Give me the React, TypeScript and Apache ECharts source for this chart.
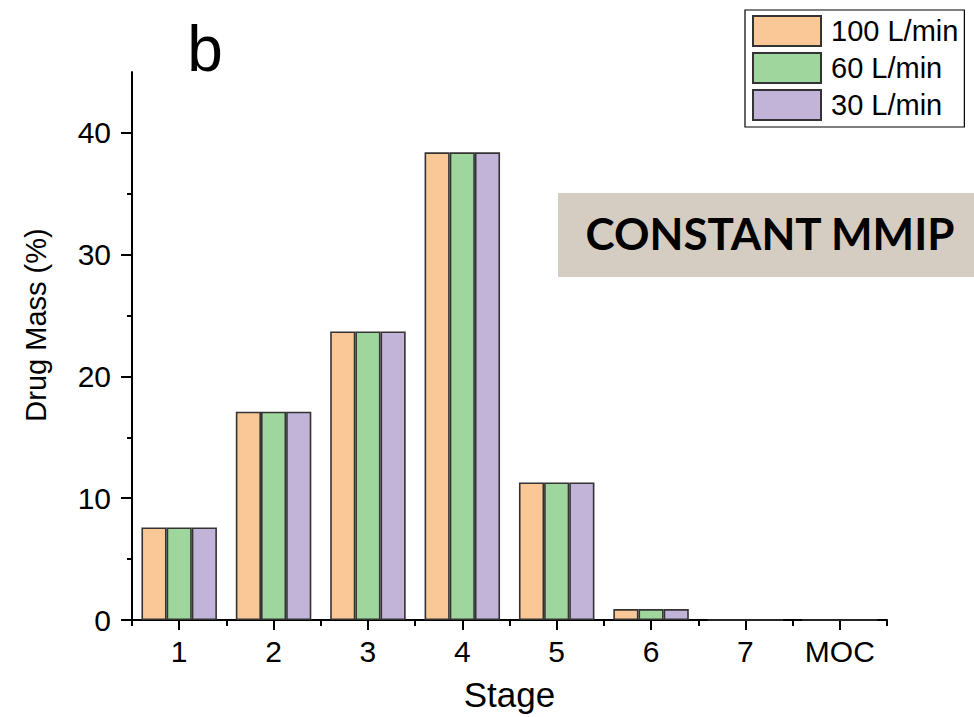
import React, { useEffect, useRef } from "react";
import * as echarts from "echarts";

const categories = ["1", "2", "3", "4", "5", "6", "7", "MOC"];
const seriesNames = ["100 L/min", "60 L/min", "30 L/min"];
const flow100 = [7.6, 17.1, 23.7, 38.4, 11.3, 0.9, 0, 0];
const flow60 = [7.6, 17.1, 23.7, 38.4, 11.3, 0.9, 0, 0];
const flow30 = [7.6, 17.1, 23.7, 38.4, 11.3, 0.9, 0, 0];
const yMajorTicks = [0, 10, 20, 30, 40];
const yMinorTicks = [5, 15, 25, 35];
const colors = ["#f9c896", "#9ed69d", "#c2b3d8"];

const FONT = "'Liberation Sans', Arial, sans-serif";

export default function App() {
  const ref = useRef<HTMLDivElement>(null);
  useEffect(() => {
    if (!ref.current) return;
    const chart = echarts.init(ref.current, null, { renderer: "svg" });
    const data = [flow100, flow60, flow30];
    chart.setOption({
      animation: false,
      backgroundColor: "#ffffff",
      grid: { left: 132, right: 87, top: 72, bottom: 97, containLabel: false },
      legend: {
        orient: "vertical",
        left: 745,
        top: 10,
        icon: "rect",
        itemWidth: 68,
        itemHeight: 30,
        itemGap: 5,
        padding: [5, 6, 6, 7],
        borderColor: "#000",
        borderWidth: 1.2,
        backgroundColor: "#fff",
        textStyle: { fontFamily: FONT, fontSize: 29, color: "#000", padding: [0, 0, 0, 5] },
        data: seriesNames,
      },
      xAxis: [
        {
          type: "category",
          data: categories,
          position: "bottom",
          boundaryGap: true,
          name: "Stage",
          nameLocation: "middle",
          nameGap: 57,
          nameTextStyle: { fontFamily: FONT, fontSize: 35, color: "#000" },
          axisLine: { show: true, lineStyle: { color: "#000", width: 2 } },
          axisTick: { show: true, alignWithLabel: false, length: 6, lineStyle: { color: "#000", width: 2 } },
          axisLabel: { fontFamily: FONT, fontSize: 30, color: "#000", margin: 16 },
          splitLine: { show: false },
        },
        {
          type: "category",
          data: categories,
          position: "bottom",
          offset: 0,
          boundaryGap: true,
          axisLine: { show: false },
          axisTick: { show: true, alignWithLabel: true, length: 10, lineStyle: { color: "#000", width: 2 } },
          axisLabel: { show: false },
          splitLine: { show: false },
        },
      ],
      yAxis: [
        {
          type: "value",
          min: 0,
          max: 45,
          interval: 10,
          position: "left",
          axisLine: { show: true, lineStyle: { color: "#000", width: 2 } },
          axisTick: { show: true, length: 11, customValues: yMajorTicks, lineStyle: { color: "#000", width: 2 } },
          axisLabel: { fontFamily: FONT, fontSize: 30, color: "#000", margin: 21, customValues: yMajorTicks },
          splitLine: { show: false },
        },
        {
          type: "value",
          min: 0,
          max: 45,
          interval: 5,
          position: "left",
          offset: 0,
          axisLine: { show: false },
          axisTick: { show: true, length: 5, customValues: yMinorTicks, lineStyle: { color: "#000", width: 2 } },
          axisLabel: { show: false },
          splitLine: { show: false },
        },
      ],
      series: seriesNames.map((name, i) => ({
        name,
        type: "bar",
        xAxisIndex: 0,
        yAxisIndex: 0,
        data: data[i],
        barGap: "0%",
        barCategoryGap: "20%",
        itemStyle: { color: colors[i], borderColor: "#333333", borderWidth: 1.6 },
      })),
      graphic: [
        {
          type: "rect",
          shape: { x: 558, y: 193, width: 420, height: 84 },
          style: { fill: "#d6cdc2" },
          z: 10,
        },
        {
          type: "text",
          x: 770,
          y: 233,
          z: 11,
          style: {
            text: "CONSTANT MMIP",
            fontFamily: "Lato, 'Open Sans', sans-serif",
            fontWeight: "bold",
            fontSize: 44,
            fill: "#000",
            align: "center",
            verticalAlign: "middle",
          },
        },
        {
          type: "text",
          x: 205,
          y: 49,
          z: 11,
          style: {
            text: "b",
            fontFamily: FONT,
            fontSize: 64,
            fill: "#000",
            align: "center",
            verticalAlign: "middle",
          },
        },
        {
          type: "text",
          x: 36,
          y: 325,
          rotation: Math.PI / 2,
          z: 11,
          style: {
            text: "Drug Mass (%)",
            fontFamily: FONT,
            fontSize: 29,
            fill: "#000",
            align: "center",
            verticalAlign: "middle",
          },
        },
      ],
    });
    return () => chart.dispose();
  }, []);
  return <div ref={ref} style={{ position: "fixed", left: 0, top: 0, width: 974, height: 717 }} />;
}
